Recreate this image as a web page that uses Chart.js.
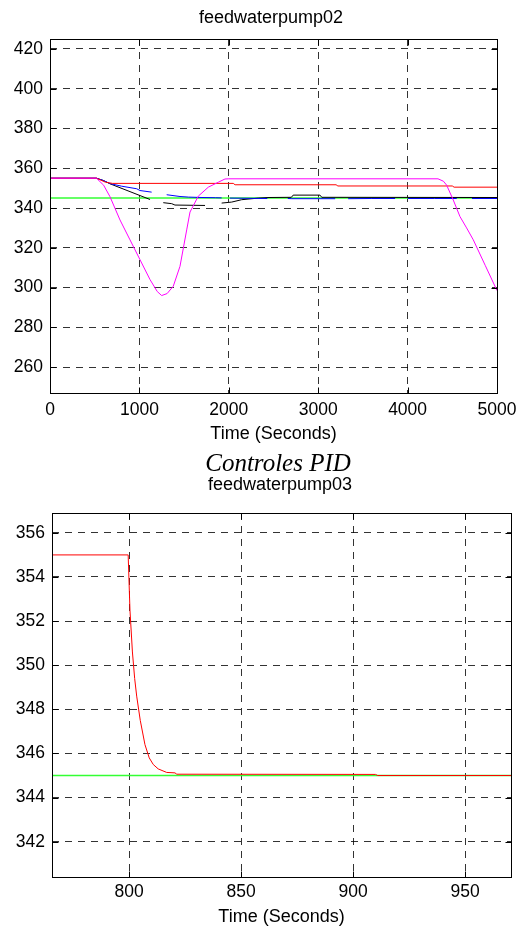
<!DOCTYPE html>
<html>
<head>
<meta charset="utf-8">
<script src="https://cdn.jsdelivr.net/npm/chart.js@4.4.0/dist/chart.umd.min.js"></script>
<style>
body{margin:0;background:#fff;width:524px;height:929px;position:relative;overflow:hidden;font-family:"Liberation Sans",Arial,sans-serif}
.box{position:absolute;left:0;width:524px}
.ttl{position:absolute;font-size:18px;line-height:22px;white-space:nowrap;transform:translateX(-50%);z-index:2}
</style>
</head>
<body>
<div class="ttl" style="left:271px;top:6px">feedwaterpump02</div>
<div class="box" style="top:0;height:450px"><canvas id="pump02"></canvas></div>
<div class="ttl" style="left:278px;top:448px;font:italic 25px/30px 'Liberation Serif','Times New Roman',serif">Controles PID</div>
<div class="ttl" style="left:280px;top:473px">feedwaterpump03</div>
<div class="box" style="top:470px;height:459px"><canvas id="pump03"></canvas></div>
<script>
// feedwaterpump02 (0..5000 s)
const topXTicks = [0,1000,2000,3000,4000,5000];
const topYTicks = [260,280,300,320,340,360,380,400,420];

const magT = [0,520,600,671,783,895,1007,1119,1200,1249,1310,1379,1454,1529,1566,1659,1771,1883,1957,2000,4340,4400,4437,4511,4586,4660,4735,4870,5000];
const magV = [355,355,351.5,345.7,334,324,314,304,298,296,297,300.7,310.7,329,338,346,350.5,353,354.6,354.7,354.7,353.5,351.5,344,335.7,330,324,311,298.5];

const redT = [0,520,570,620,700,2050,2070,3200,3220,4500,4520,5000];
const redV = [355,355,354,353,352.4,352.4,351.7,351.7,351.1,351.1,350.5,350.5];

const blueT = [0,520,600,671,800,970,1007,1137,1200,1305,1454,1550,1700,1850,1920,1960,2013,2430,2450,2660,2700,3000,3190,3250,3335,3600,3860,3900,4005,4300,4550,4600,4720,5000];
const blueV = [355,355,353.8,352.3,351,349.7,348.8,348,null,346.7,345.8,345.5,345.3,345.2,345.1,null,345,344.8,null,344.8,344.7,344.7,344.7,null,344.7,344.8,344.8,null,344.8,344.8,344.8,null,344.8,344.8];

const blackT = [0,520,600,671,1119,1190,1267,1361,1398,1734,1830,1920,2032,2144,2330,2450,2700,2720,3020,3040,5000];
const blackV = [355,355,353.8,352.2,344.3,null,342.7,342.2,341.5,341.3,null,342.5,343,344.2,345,345.3,345.4,346.5,346.5,345.4,345.3];

const greenT = [0,5000];
const greenV = [345,345];

// feedwaterpump03 (zoom around 800 s)
const botXTicks = [800,850,900,950];
const botYTicks = [342,344,346,348,350,352,354,356];

const red3T = [765,799.6,800.4,801.5,802.5,803.4,805,807.1,809,810.8,813,816.8,820.5,821.3,910,911,971];
const red3V = [355,355,352.5,350.6,349.4,348.6,347.5,346.4,345.8,345.5,345.3,345.14,345.12,345.06,345.05,345,345];

const green3T = [765,971];
const green3V = [345,345];

const FONT = "'Liberation Sans', Arial, sans-serif";
Chart.defaults.font.family = FONT;
Chart.defaults.color = '#000';

function pts(xs, ys){ return xs.map((t,i)=>({x:t, y:ys[i]})); }
function line(xs, ys, color, w){
    return {data:pts(xs,ys), borderColor:color, borderWidth:w||1, pointRadius:0, tension:0, fill:false, spanGaps:false};
}

// axes box + inward tick marks, matlab style
const frame = {
    id:'frame',
    afterDraw(chart){
        const {ctx, chartArea:a, scales:{x,y}} = chart;
        const L=Math.round(a.left)+0.5, R=Math.round(a.right)+0.5, T=Math.round(a.top)+0.5, B=Math.round(a.bottom)+0.5;
        ctx.save();
        ctx.strokeStyle='#000'; ctx.lineWidth=1; ctx.setLineDash([]);
        ctx.strokeRect(L, T, R-L, B-T);
        ctx.beginPath();
        x.ticks.forEach(t=>{
            const p=Math.round(x.getPixelForValue(t.value))+0.5;
            ctx.moveTo(p,B); ctx.lineTo(p,B-6);
            ctx.moveTo(p,T); ctx.lineTo(p,T+6);
        });
        y.ticks.forEach(t=>{
            const p=Math.round(y.getPixelForValue(t.value))+0.5;
            ctx.moveTo(L,p); ctx.lineTo(L+6,p);
            ctx.moveTo(R,p); ctx.lineTo(R-6,p);
        });
        ctx.stroke();
        ctx.restore();
    }
};

function makeChart(id, datasets, cfg){
    return new Chart(document.getElementById(id),{
        type:'line',
        data:{datasets:datasets},
        options:{
            responsive:true, maintainAspectRatio:false, animation:false,
            layout:{padding:{top:cfg.padTop,right:cfg.padRight,left:0,bottom:0}},
            plugins:{legend:{display:false},tooltip:{enabled:false},title:{display:false}},
            scales:{
                x:{type:'linear', min:cfg.xMin, max:cfg.xMax,
                    afterBuildTicks:s=>{s.ticks=cfg.xTicks.map(v=>({value:v}));},
                    afterFit:s=>{s.height=cfg.xHeight;},
                    ticks:{font:{size:17.5}, padding:cfg.xTickPad, maxRotation:0, autoSkip:false, callback:v=>String(v)},
                    grid:{color:'rgba(0,0,0,0.8)', drawTicks:false},
                    border:{display:false, dash:[7,6]},
                    title:{display:true, text:'Time (Seconds)', font:{size:18}, padding:{top:0,bottom:cfg.xTitlePad}}
                },
                y:{min:cfg.yMin, max:cfg.yMax,
                    afterBuildTicks:s=>{s.ticks=cfg.yTicks.map(v=>({value:v}));},
                    afterFit:s=>{s.width=cfg.yWidth;},
                    ticks:{font:{size:17.5}, padding:7, callback:v=>String(v)},
                    grid:{color:'rgba(0,0,0,0.8)', drawTicks:false},
                    border:{display:false, dash:[7,6]}
                }
            }
        },
        plugins:[frame]
    });
}

makeChart('pump02',[
    Object.assign(line(magT,magV,'#ff00ff'),{order:0}),
    Object.assign(line(redT,redV,'#ff0000'),{order:1}),
    Object.assign(line(blueT,blueV,'#0000ff'),{order:2}),
    Object.assign(line(blackT,blackV,'#000000'),{order:3}),
    Object.assign(line(greenT,greenV,'#33ff33',1.5),{order:4})
],{padTop:39,padRight:27,xMin:0,xMax:5000,yMin:247,yMax:425,xTicks:topXTicks,yTicks:topYTicks,
   xHeight:57,yWidth:50,xTickPad:7,xTitlePad:5});

makeChart('pump03',[
    Object.assign(line(red3T,red3V,'#ff0000'),{order:0}),
    Object.assign(line(green3T,green3V,'#33ff33',1.5),{order:1})
],{padTop:43,padRight:13,xMin:765.6,xMax:970.5,yMin:340.4,yMax:356.9,xTicks:botXTicks,yTicks:botYTicks,
   xHeight:52,yWidth:52,xTickPad:5,xTitlePad:1});
</script>
</body>
</html>
